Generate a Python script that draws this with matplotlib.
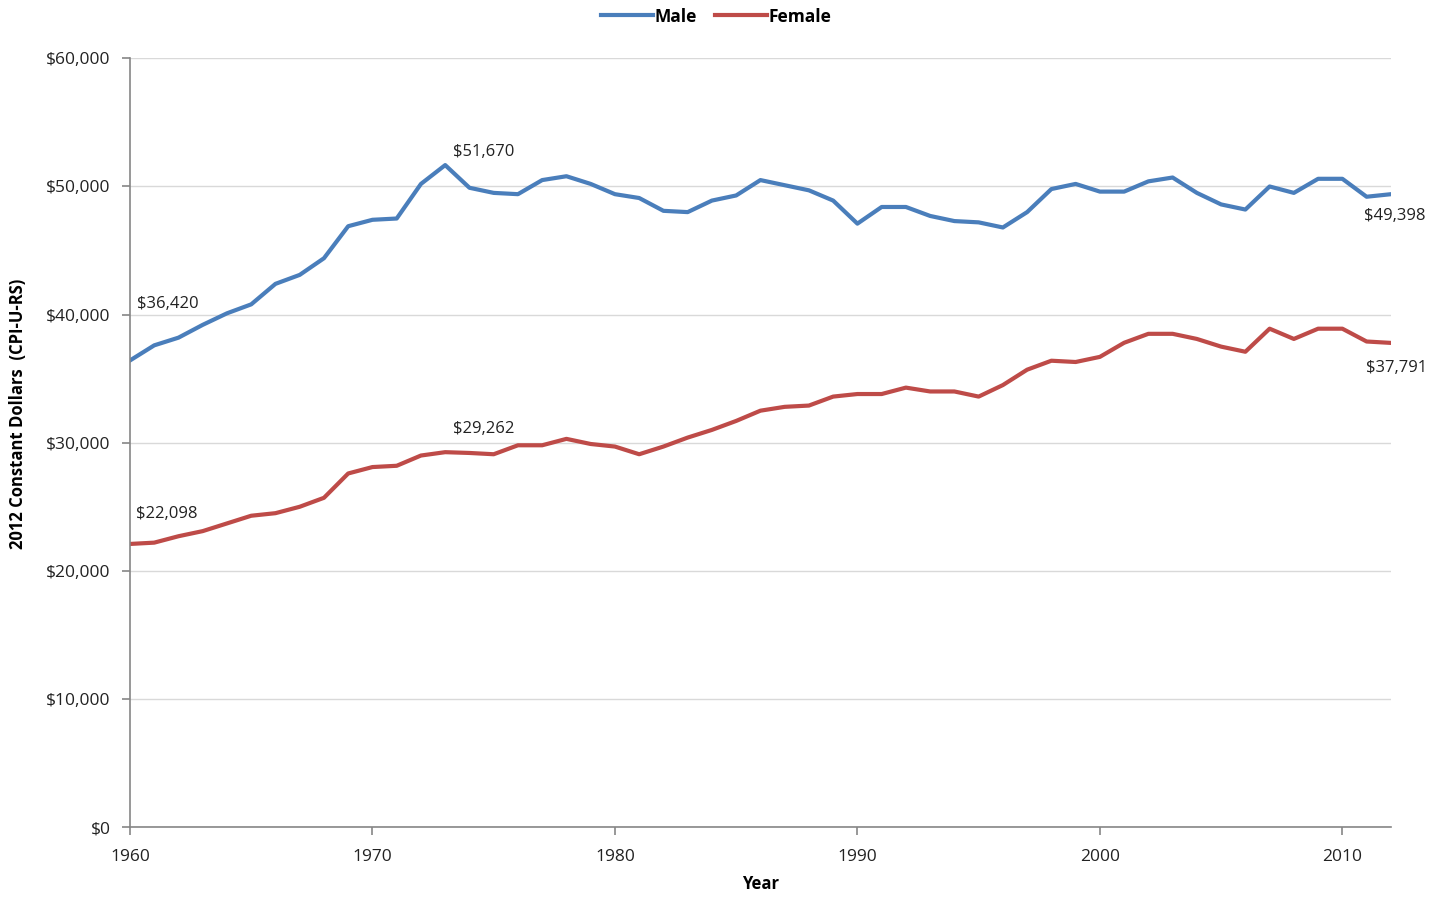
import matplotlib
matplotlib.use("Agg")
import matplotlib.pyplot as plt
from matplotlib.ticker import FuncFormatter, MultipleLocator

plt.rcParams['font.family'] = ['Open Sans', 'DejaVu Sans']

years = list(range(1960, 2013))
male = [36420, 37600, 38200, 39200, 40100, 40800, 42400, 43100, 44400, 46900,
        47400, 47500, 50200, 51670, 49900, 49500, 49400, 50500, 50800, 50200,
        49400, 49100, 48100, 48000, 48900, 49300, 50500, 50100, 49700, 48900,
        47100, 48400, 48400, 47700, 47300, 47200, 46800, 48000, 49800, 50200,
        49600, 49600, 50400, 50700, 49500, 48600, 48200, 50000, 49500, 50600,
        50600, 49200, 49398]
female = [22098, 22200, 22700, 23100, 23700, 24300, 24500, 25000, 25700, 27600,
          28100, 28200, 29000, 29262, 29200, 29100, 29800, 29800, 30300, 29900,
          29700, 29100, 29700, 30400, 31000, 31700, 32500, 32800, 32900, 33600,
          33800, 33800, 34300, 34000, 34000, 33600, 34500, 35700, 36400, 36300,
          36700, 37800, 38500, 38500, 38100, 37500, 37100, 38900, 38100, 38900,
          38900, 37900, 37791]
series_names = ["Male", "Female"]
colors = ["#4A7EBB", "#BE4B48"]

# labelled points: (series index, year, text, dx px, dy px)
labels = [(0, 1960, "$36,420", 7, 56), (0, 1973, "$51,670", 8, 13),
          (0, 2012, "$49,398", -27, -22), (1, 1960, "$22,098", 6, 30),
          (1, 1973, "$29,262", 8, 23), (1, 2012, "$37,791", -25, -25)]

fig = plt.figure(figsize=(14.41, 8.98), dpi=100)
ax = fig.add_axes([0.0902, 0.079, 0.8750, 0.856])

data = [male, female]
for name, vals, c in zip(series_names, data, colors):
    ax.plot(years, vals, color=c, lw=3.0, label=name, solid_joinstyle='round')

for si, yr, txt, dx, dy in labels:
    v = data[si][years.index(yr)]
    ax.annotate(txt, xy=(yr, v), xytext=(dx, dy), textcoords='offset pixels',
                ha='left', va='center', fontsize=12, color='#222222')

ax.set_xlim(1960, 2012)
ax.set_ylim(0, 60000)
ax.yaxis.set_major_locator(MultipleLocator(10000))
ax.xaxis.set_major_locator(MultipleLocator(10))
ax.yaxis.set_major_formatter(FuncFormatter(lambda v, p: f"${int(v):,}"))
ax.grid(axis='y', color='#D9D9D9', lw=1.0)
ax.set_axisbelow(True)
for s in ['top', 'right']:
    ax.spines[s].set_visible(False)
for s in ['left', 'bottom']:
    ax.spines[s].set_color('#868686')
    ax.spines[s].set_linewidth(1.2)
ax.tick_params(axis='both', colors='#868686', length=6, width=1.2, labelcolor='#222222',
               labelsize=12.5)
ax.tick_params(axis='x', pad=10)
ax.tick_params(axis='y', pad=8)

ax.set_xlabel("Year", fontsize=12, fontweight='bold', labelpad=7)
ax.set_ylabel("2012 Constant Dollars  (CPI-U-RS)", fontsize=12, fontweight='bold',
              va='center')
ax.yaxis.set_label_coords(-0.089, 0.537)

leg = fig.legend(loc='upper center', bbox_to_anchor=(0.497, 1.009), ncol=2, frameon=False,
                 prop={'weight': 'bold', 'size': 12.5}, handlelength=3.0,
                 handletextpad=0.1, columnspacing=1.0)

fig.savefig("out.png", dpi=100)
